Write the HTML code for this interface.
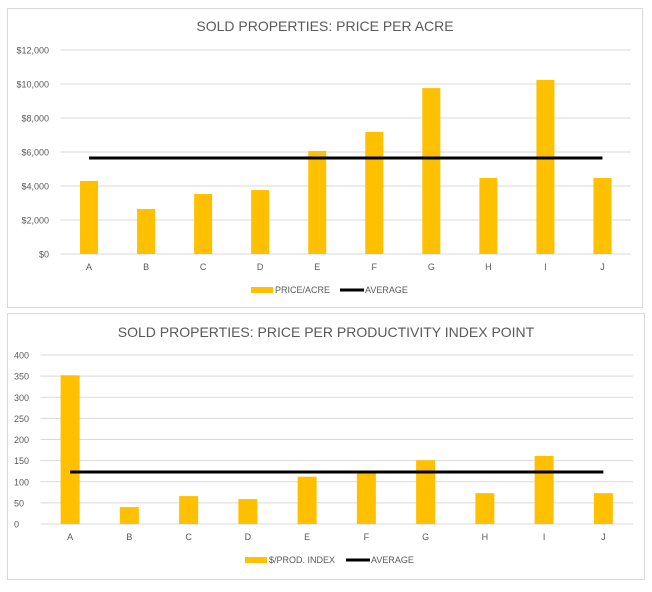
<!DOCTYPE html>
<html><head><meta charset="utf-8"><style>
body{margin:0;background:#fff;width:652px;height:587px;overflow:hidden;font-family:"Liberation Sans",sans-serif}
svg text{font-family:"Liberation Sans",sans-serif}
</style></head><body>
<svg id="s" width="652" height="587"></svg>
<script>
const categories=['A','B','C','D','E','F','G','H','I','J'];
const priceAcre=[4300,2650,3530,3760,6060,7180,9760,4470,10240,4470];
const priceAcreAvg=5650;
const priceAcreTicks=[0,2000,4000,6000,8000,10000,12000];
const prodIndex=[352,40,66,59,112,122,151,73,161,73];
const prodIndexAvg=123;
const prodTicks=[0,50,100,150,200,250,300,350,400];
const NS='http://www.w3.org/2000/svg';
const svg=document.getElementById('s');
function el(t,a,p){const e=document.createElementNS(NS,t);for(const k in a)e.setAttribute(k,a[k]);(p||svg).appendChild(e);return e;}
function chart(o){
  const g=el('g',{});
  
  
  const bg=el('rect',{x:o.box[0],y:o.box[1],width:o.box[2],height:o.box[3],fill:'#fff',stroke:'#d9d9d9'},g);
  
  
  const t=el('text',{x:o.box[0]+o.box[2]/2,y:o.titleY,'text-anchor':'middle','font-size':14,fill:'#595959'},g);
  t.textContent=o.title;
  
  
  const max=o.ticks[o.ticks.length-1];
  const y=v=>o.y0-(v/max)*(o.y0-o.yTop);
  const bw=(o.right-o.left)/categories.length;
  const x=i=>o.left+bw*(i+0.5);
  o.ticks.forEach(v=>{
    const l=el('line',{x1:o.left,x2:o.right,y1:y(v),y2:y(v),stroke:'#d9d9d9'},g);
    
    
    const tx=el('text',{x:o.labelX,y:y(v)+3.5,'text-anchor':o.anchor,'font-size':9,fill:'#595959'},g);
    tx.textContent=o.fmt(v);
    
    
  });
  o.values.forEach((v,i)=>{
    const r=el('rect',{x:x(i)-o.barW/2,y:y(v),width:o.barW,height:o.y0-y(v),fill:'#ffc000'},g);
    
    
    const tx=el('text',{x:x(i),y:o.y0+16,'text-anchor':'middle','font-size':9,fill:'#595959'},g);
    tx.textContent=categories[i];
    
    
  });
  const a=el('line',{x1:x(0),x2:x(categories.length-1),y1:y(o.avg),y2:y(o.avg),stroke:'#000','stroke-width':3},g);
  
  
  const lx=o.legX;
  const lr=el('rect',{x:lx,y:o.legY-3,width:22,height:6,fill:'#ffc000'},g);
  
  
  const l1=el('text',{x:lx+24,y:o.legY+3,'font-size':9,fill:'#595959'},g);
  l1.textContent=o.legend;
  
  
  const ll=el('line',{x1:o.legX2,x2:o.legX2+24,y1:o.legY,y2:o.legY,stroke:'#000','stroke-width':3},g);
  
  
  const l2=el('text',{x:o.legX2+25,y:o.legY+3,'font-size':9,fill:'#595959'},g);
  l2.textContent='AVERAGE';
  
  
}
chart({name:'price-per-acre-chart',box:[7.5,8.5,635,299],title:'SOLD PROPERTIES: PRICE PER ACRE',titleY:31,
  left:60.5,right:631,y0:254,yTop:50,ticks:priceAcreTicks,values:priceAcre,avg:priceAcreAvg,barW:18,
  labelX:49,anchor:'end',fmt:v=>'$'+v.toLocaleString('en-US'),legend:'PRICE/ACRE',legX:251,legX2:340,legY:290});
chart({name:'price-per-index-chart',box:[7.5,313.5,637,266],title:'SOLD PROPERTIES: PRICE PER PRODUCTIVITY INDEX  POINT',titleY:337,
  left:40.5,right:633,y0:524,yTop:355,ticks:prodTicks,values:prodIndex,avg:prodIndexAvg,barW:19,
  labelX:14,anchor:'start',fmt:v=>String(v),legend:'$/PROD. INDEX',legX:245,legX2:346,legY:560});
</script>
</body></html>
